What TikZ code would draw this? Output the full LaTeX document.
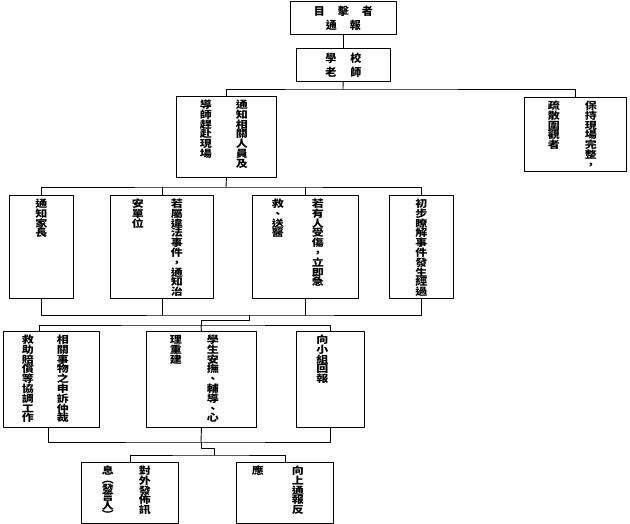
\documentclass[tikz,border=0pt]{standalone}
\usepackage{fontspec}
\setmainfont{Noto Sans CJK TC}
\newfontfamily\widecjk{Noto Sans CJK TC}[FakeStretch=1.2]
\makeatletter
\def\vpitch{9.8pt}
\newcommand{\vcol}[1]{\vtop{\baselineskip=\vpitch\lineskiplimit=-\maxdimen\vc@next#1\@nnil}}
\def\vc@next#1{\ifx\@nnil#1\else\hbox to 1em{\hss#1\hss}\expandafter\vc@next\fi}
\makeatother
\newcommand{\vpair}[3]{\vcol{#2}\hskip#1\relax\vcol{#3}}

\begin{document}
\begin{tikzpicture}[line cap=round,line join=round,x=1pt,y=-1pt,
  box/.style={draw,line width=0.9pt,anchor=north west,inner xsep=0pt,inner ysep=3pt,text height=9pt,font=\widecjk\fontsize{10}{9.8}\selectfont\bfseries},
  headbox/.style={draw,line width=0.9pt,anchor=north west,align=center,font=\fontsize{11}{14}\selectfont\bfseries},
  link/.style={line width=0.9pt}]
\useasboundingbox (0,0) rectangle (630,524);
\node[headbox,minimum width=106pt,minimum height=33pt] (A) at (290,1) {目\hspace{13pt}擊\hspace{13pt}者\\通\hspace{13pt}報};
\node[headbox,minimum width=94pt,minimum height=33pt] (S) at (296,48) {學\hspace{14pt}校\\老\hspace{14pt}師};
\node[box,minimum width=100pt,text depth=66pt] (B) at (176,96) {\vpair{26pt}{導師趕赴現場}{通知相關人員及}\kern5pt};
\node[box,minimum width=102pt,text depth=59pt] (C) at (524,97) {\vpair{27pt}{疏散圍觀者}{保持現場完整，}\kern6pt};
\node[box,minimum width=64pt,text depth=88pt] (D) at (9,195) {\vcol{通知家長}};
\node[box,minimum width=103pt,text depth=88pt] (E) at (110,195) {\vpair{29pt}{安單位}{若屬違法事件，通知治}\kern9pt};
\node[box,minimum width=106pt,text depth=88pt] (F) at (252,195) {\vpair{30pt}{救、送醫}{若有人受傷，立即急}\kern15pt};
\node[box,minimum width=64pt,text depth=88pt] (G) at (389,195) {\vcol{初步瞭解事件發生經過}};
\node[box,minimum width=96pt,text depth=81pt] (H) at (3,331) {\vpair{25pt}{救助賠償等協調工作}{相關事物之申訴仲裁}\kern12pt};
\node[box,minimum width=110pt,text depth=81pt] (I) at (146,331) {\vpair{27pt}{理重建}{學生安撫、輔導、心}\kern14pt};
\node[box,minimum width=68pt,text depth=81pt] (J) at (296,331) {\vcol{向小組回報}\kern16pt};
\node[box,minimum width=97pt,text depth=46pt] (K) at (81,462) {{\def\vpitch{8.8pt}\vcol{息︵發言人︶}}\hskip27pt\vcol{對外發佈訊}\kern7pt};
\node[box,minimum width=97pt,text depth=46pt] (L) at (236,462) {\vpair{30pt}{應}{向上通報反}\kern14pt};
% connectors
\coordinate (j1) at (343,89);
\coordinate (j2) at (226,187);
\coordinate (j3) at (249,315);
\coordinate (j4) at (201,325);
\coordinate (j5) at (201,442);
\coordinate (j6) at (214,455);
\draw[link] (A) -- (S);
\draw[link] (S) -- (j1);
\draw[link] (B.north) |- (j1) -| (C.north);
\draw[link] (B.south) -- (j2);
\draw[link] (D.north) |- (j2) -| (G.north);
\draw[link] (E.north) -- (E.north |- j2);
\draw[link] (F.north) -- (F.north |- j2);
\draw[link] (D.south) |- (j3) -| (G.south);
\draw[link] (E.south) -- (E.south |- j3);
\draw[link] (F.south) -- (F.south |- j3);
\draw[link] (j3) -- ++(0,5) -| (j4);
\draw[link] ([xshift=-12pt]H.north) |- (j4) -| (J.north);
\draw[link] (I.north) -- (j4);
\draw[link] (I.south) -- (j5);
\draw[link] ([xshift=-3pt]H.south) |- (j5) -| (J.south);
\draw[link] (j5) -- ++(0,6) -| (j6);
\draw[link] (K.north) |- (j6) -| (L.north);
\end{tikzpicture}
\end{document}
